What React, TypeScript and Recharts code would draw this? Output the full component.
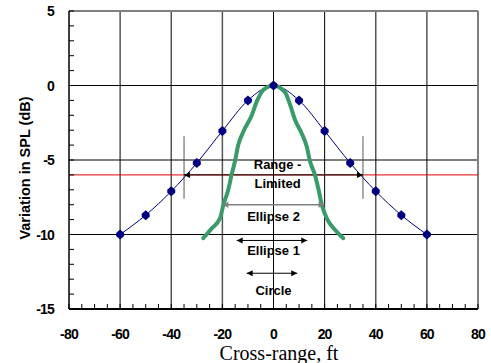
import { ComposedChart, Line, XAxis, YAxis, ReferenceLine, ReferenceDot } from "recharts";

const xTicks = [-80, -75, -70, -65, -60, -55, -50, -45, -40, -35, -30, -25, -20, -15, -10, -5, 0, 5, 10, 15, 20, 25, 30, 35, 40, 45, 50, 55, 60, 65, 70, 75, 80];
const yTicks = [-15, -14, -13, -12, -11, -10, -9, -8, -7, -6, -5, -4, -3, -2, -1, 0, 1, 2, 3, 4, 5];
const xGrid = [-60, -40, -20, 0, 20, 40, 60];
const yGrid = [0, -5, -10];

// measured SPL variation (blue diamonds)
const measuredX = [-60, -50, -40, -30, -20, -10, 0, 10, 20, 30, 40, 50, 60];
const measuredY = [-10, -8.7, -7.1, -5.2, -3.05, -1.0, 0, -1.0, -3.05, -5.2, -7.1, -8.7, -10];

// green trace
const traceX = [-27.5, -24.2, -20.9, -19.6, -17.7, -16.4, -15.1, -13.8, -11.8, -8.5, -6.6, -4, 0, 4.5, 6.5, 8.4, 11, 13, 14.3, 16.2, 17.5, 18.9, 20.8, 24.1, 27.3];
const traceY = [-10.25, -9.6, -8.9, -8.0, -7.0, -6.0, -5.1, -4.0, -3.1, -2.0, -1.1, -0.3, 0, -0.45, -1.3, -2.3, -3.2, -4.1, -5.1, -6.0, -6.9, -8.0, -8.9, -9.7, -10.25];

const rangeLimited = [{ x: -35, y: -6 }, { x: 35, y: -6 }];
const ellipse2 = [{ x: -20, y: -8 }, { x: 20, y: -8 }];
const ellipse1 = [{ x: -14.4, y: -10.4 }, { x: 13.2, y: -10.4 }];
const circle = [{ x: -10.5, y: -12.6 }, { x: 9.3, y: -12.6 }];
const limitMarks = [-35, 35];

const labels = [
  { text: "Range -", x: 1.6, y: -5.3 },
  { text: "Limited", x: 1.6, y: -6.55 },
  { text: "Ellipse 2", x: 0, y: -8.8 },
  { text: "Ellipse 1", x: 0, y: -11.05 },
  { text: "Circle", x: 0, y: -13.75 },
];

const measured = measuredX.map((x, i) => ({ x, y: measuredY[i] }));
const trace = traceX.map((x, i) => ({ x, y: traceY[i] }));

const SANS = "'Liberation Sans', Arial, sans-serif";

const XTick = (props: any) => {
  const { x, y, payload } = props;
  return (
    <g>
      <line x1={x} x2={x} y1={y} y2={y - 5} stroke="#000" strokeWidth={1} />
      {payload.value % 20 === 0 && (
        <text x={x} y={y + 29.5} textAnchor="middle" fontFamily={SANS} fontWeight="bold" fontSize={14} letterSpacing={-0.8} fill="#000">
          {payload.value}
        </text>
      )}
    </g>
  );
};

const YTick = (props: any) => {
  const { x, y, payload } = props;
  return (
    <g>
      <line x1={x} x2={x + 5} y1={y} y2={y} stroke="#000" strokeWidth={1} />
      {payload.value % 5 === 0 && (
        <text x={x - 15} y={y + 5} textAnchor="end" fontFamily={SANS} fontWeight="bold" fontSize={14} letterSpacing={-0.8} fill="#000">
          {payload.value}
        </text>
      )}
    </g>
  );
};

const arrowDot = (color: string) => (props: any) => {
  const { cx, cy, index } = props;
  const dir = index === 0 ? -1 : 1;
  return (
    <path
      key={`arrow-${index}`}
      d={`M${cx},${cy} L${cx - dir * 6},${cy - 3} L${cx - dir * 6},${cy + 3} Z`}
      fill={color}
    />
  );
};

const diamondDot = (props: any) => {
  const { cx, cy, index } = props;
  return (
    <path
      key={`d-${index}`}
      d={`M${cx},${cy - 5} L${cx + 4},${cy - 1.5} L${cx + 4},${cy + 1.5} L${cx},${cy + 5} L${cx - 4},${cy + 1.5} L${cx - 4},${cy - 1.5} Z`}
      fill="#000080"
    />
  );
};

export default function App() {
  return (
    <div style={{ position: "absolute", left: 0, top: 0, background: "#fff" }}>
      <ComposedChart width={491} height={363} margin={{ top: 11, right: 13, bottom: 0, left: 0 }}>
        <XAxis
          type="number"
          dataKey="x"
          domain={[-80, 80]}
          ticks={xTicks}
          interval={0}
          tickSize={0}
          tickMargin={0}
          tickLine={false}
          tick={<XTick />}
          height={54}
          axisLine={{ stroke: "#000", strokeWidth: 2 }}
          label={{
            content: () => (
              <text x={279} y={359.5} textAnchor="middle" fontFamily="'Liberation Serif', 'Times New Roman', serif" fontSize={20} fill="#000">
                Cross-range, ft
              </text>
            ),
          }}
        />
        <YAxis
          type="number"
          domain={[-15, 5]}
          ticks={yTicks}
          interval={0}
          tickSize={0}
          tickMargin={0}
          tickLine={false}
          tick={<YTick />}
          width={69}
          axisLine={{ stroke: "#000", strokeWidth: 1.5 }}
          label={{
            content: () => (
              <text x={29.5} y={168} transform="rotate(-90 29.5 168)" textAnchor="middle" fontFamily={SANS} fontWeight="bold" fontSize={14.5} fill="#000">
                Variation in SPL (dB)
              </text>
            ),
          }}
        />

        {xGrid.map((v) => (
          <ReferenceLine key={`gx${v}`} x={v} stroke={v === 0 || v === 20 ? "#000" : "#555"} strokeWidth={v === 0 || v === 20 ? 1 : 1.5} />
        ))}
        {yGrid.map((v) => (
          <ReferenceLine key={`gy${v}`} y={v} stroke="#000" strokeWidth={1} />
        ))}
        <ReferenceLine y={5} stroke="#808080" strokeWidth={2} />
        <ReferenceLine x={80} stroke="#808080" strokeWidth={2} />
        <ReferenceLine y={-6} stroke="#e00000" strokeWidth={1} />

        {limitMarks.map((v) => (
          <ReferenceLine key={`lm${v}`} segment={[{ x: v, y: -3.4 }, { x: v, y: -7.6 }]} stroke="#555" strokeWidth={1} />
        ))}

        <Line data={rangeLimited} dataKey="y" stroke="#000" strokeWidth={1} dot={arrowDot("#000")} activeDot={false} isAnimationActive={false} legendType="none" />
        <Line data={ellipse2} dataKey="y" stroke="#808080" strokeWidth={1.5} dot={arrowDot("#808080")} activeDot={false} isAnimationActive={false} legendType="none" />
        <Line data={ellipse1} dataKey="y" stroke="#000" strokeWidth={1} dot={arrowDot("#000")} activeDot={false} isAnimationActive={false} legendType="none" />
        <Line data={circle} dataKey="y" stroke="#000" strokeWidth={1} dot={arrowDot("#000")} activeDot={false} isAnimationActive={false} legendType="none" />

        <Line data={measured} dataKey="y" type="monotone" stroke="#000080" strokeWidth={1} dot={diamondDot} activeDot={false} isAnimationActive={false} legendType="none" />
        <Line data={trace} dataKey="y" type="monotone" stroke="#3a9b6a" strokeWidth={4} strokeLinejoin="round" strokeLinecap="round" dot={false} activeDot={false} isAnimationActive={false} legendType="none" />

        {labels.map((l) => (
          <ReferenceDot
            key={l.text}
            x={l.x}
            y={l.y}
            r={0}
            fill="none"
            stroke="none"
            label={{ value: l.text, position: "center", fontFamily: SANS, fontWeight: "bold", fontSize: 13, fill: "#000" }}
          />
        ))}
      </ComposedChart>
    </div>
  );
}
